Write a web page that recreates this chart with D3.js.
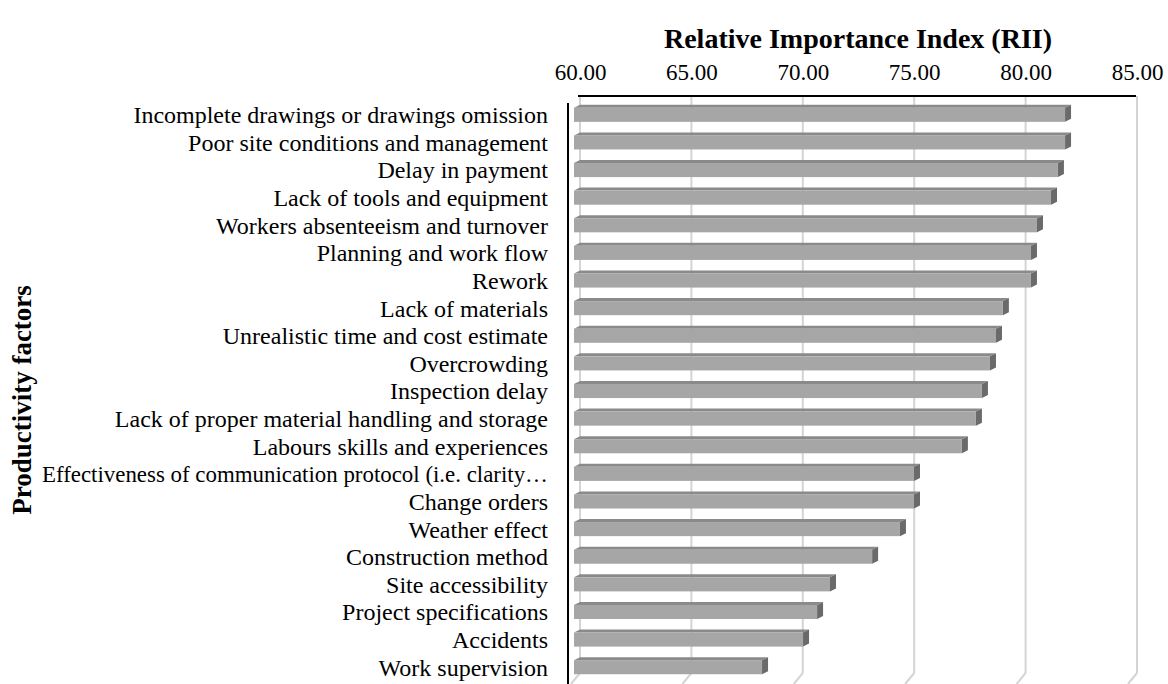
<!DOCTYPE html>
<html>
<head>
<meta charset="utf-8">
<script src="https://cdn.jsdelivr.net/npm/d3@7"></script>
<style>
  body { margin: 0; background: #fff; }
  svg { display: block; }
  text { font-family: "Liberation Serif", "Times New Roman", serif; fill: #000; }
</style>
</head>
<body>
<svg id="chart" width="1168" height="684"></svg>
<script>
const categories = [
  "Incomplete drawings or drawings omission",
  "Poor site conditions and management",
  "Delay in payment",
  "Lack of tools and equipment",
  "Workers absenteeism and turnover",
  "Planning and work flow",
  "Rework",
  "Lack of materials",
  "Unrealistic time and cost estimate",
  "Overcrowding",
  "Inspection delay",
  "Lack of proper material handling and storage",
  "Labours skills and experiences",
  "Effectiveness of communication protocol (i.e. clarity…",
  "Change orders",
  "Weather effect",
  "Construction method",
  "Site accessibility",
  "Project specifications",
  "Accidents",
  "Work supervision"
];
const rii = [82.04, 82.04, 81.72, 81.41, 80.78, 80.51, 80.51, 79.25, 78.94, 78.67,
             78.31, 78.04, 77.41, 75.26, 75.26, 74.63, 73.38, 71.49, 70.91, 70.28, 68.44];
const tickValues = [60, 65, 70, 75, 80, 85];
const xTitle = "Relative Importance Index (RII)";
const yTitle = "Productivity factors";

const svg = d3.select("#chart");
const plotTop = 96, plotBottom = 673;
const x = d3.scaleLinear().domain([60, 85]).range([580, 1137]);
const y = d3.scaleBand().domain(categories).range([101, 681]).paddingInner(0.49).paddingOuter(0.245);

// 3D offsets
const dx = -6, dy = 3;      // bar front face offset
const fdx = -9, fdy = 11;   // floor depth

// gridlines (back wall) + floor slants
const grid = svg.append("g");
tickValues.forEach(t => {
  grid.append("line")
    .attr("x1", x(t)).attr("x2", x(t))
    .attr("y1", plotTop).attr("y2", plotBottom)
    .attr("stroke", "#d4d4d4").attr("stroke-width", 2);
  grid.append("line")
    .attr("x1", x(t)).attr("x2", x(t) + fdx)
    .attr("y1", plotBottom).attr("y2", plotBottom + fdy)
    .attr("stroke", "#d4d4d4").attr("stroke-width", 2);
});

// top axis
const xAxis = d3.axisTop(x).tickValues(tickValues).tickSize(0).tickPadding(0)
  .tickFormat(d3.format(".2f"));
const gx = svg.append("g").attr("transform", `translate(0,${plotTop})`).call(xAxis);
gx.select(".domain").remove();
gx.selectAll("text").attr("y", -16).attr("font-size", 23)
  .style("font-family", '"Liberation Serif", serif');
svg.append("line").attr("x1", x(60) - 2).attr("x2", x(85) - 1)
  .attr("y1", plotTop).attr("y2", plotTop)
  .attr("stroke", "#000").attr("stroke-width", 2);

// bars (3D)
const bars = svg.append("g");
categories.forEach((c, i) => {
  const v = rii[i];
  const xb0 = x(60), xb1 = x(v);
  const yb = y(c) - dy, h = y.bandwidth();
  const xf0 = xb0 + dx, xf1 = xb1 + dx, yf = yb + dy;
  bars.append("polygon")
    .attr("points", [[xf0, yf], [xb0, yb], [xb1, yb], [xf1, yf]].map(p => p.join(",")).join(" "))
    .attr("fill", "#8a8a8a");
  bars.append("polygon")
    .attr("points", [[xf1, yf], [xb1, yb], [xb1, yb + h], [xf1, yf + h]].map(p => p.join(",")).join(" "))
    .attr("fill", "#6a6a6a");
  bars.append("rect")
    .attr("x", xf0).attr("y", yf).attr("width", xf1 - xf0).attr("height", h)
    .attr("fill", "#a6a6a6");
});

// left axis line
svg.append("line").attr("x1", 568).attr("x2", 568).attr("y1", 103).attr("y2", 684)
  .attr("stroke", "#000").attr("stroke-width", 2);

// category labels
const yAxis = d3.axisLeft(y).tickSize(0).tickPadding(0);
const gy = svg.append("g").attr("transform", "translate(548,0)").call(yAxis);
gy.select(".domain").remove();
gy.selectAll("text").attr("font-size", 24).attr("dy", "0.35em")
  .style("font-family", '"Liberation Serif", serif')
  .each(function () {
    const maxW = 506;
    if (this.getComputedTextLength() > maxW) {
      d3.select(this).attr("textLength", maxW).attr("lengthAdjust", "spacingAndGlyphs");
    }
  });

// titles
svg.append("text").attr("x", 858).attr("y", 48).attr("text-anchor", "middle")
  .attr("font-size", 28).attr("font-weight", "bold").text(xTitle);
svg.append("text").attr("transform", "translate(31,400) rotate(-90)")
  .attr("text-anchor", "middle").attr("font-size", 27).attr("font-weight", "bold").text(yTitle);
</script>
</body>
</html>
